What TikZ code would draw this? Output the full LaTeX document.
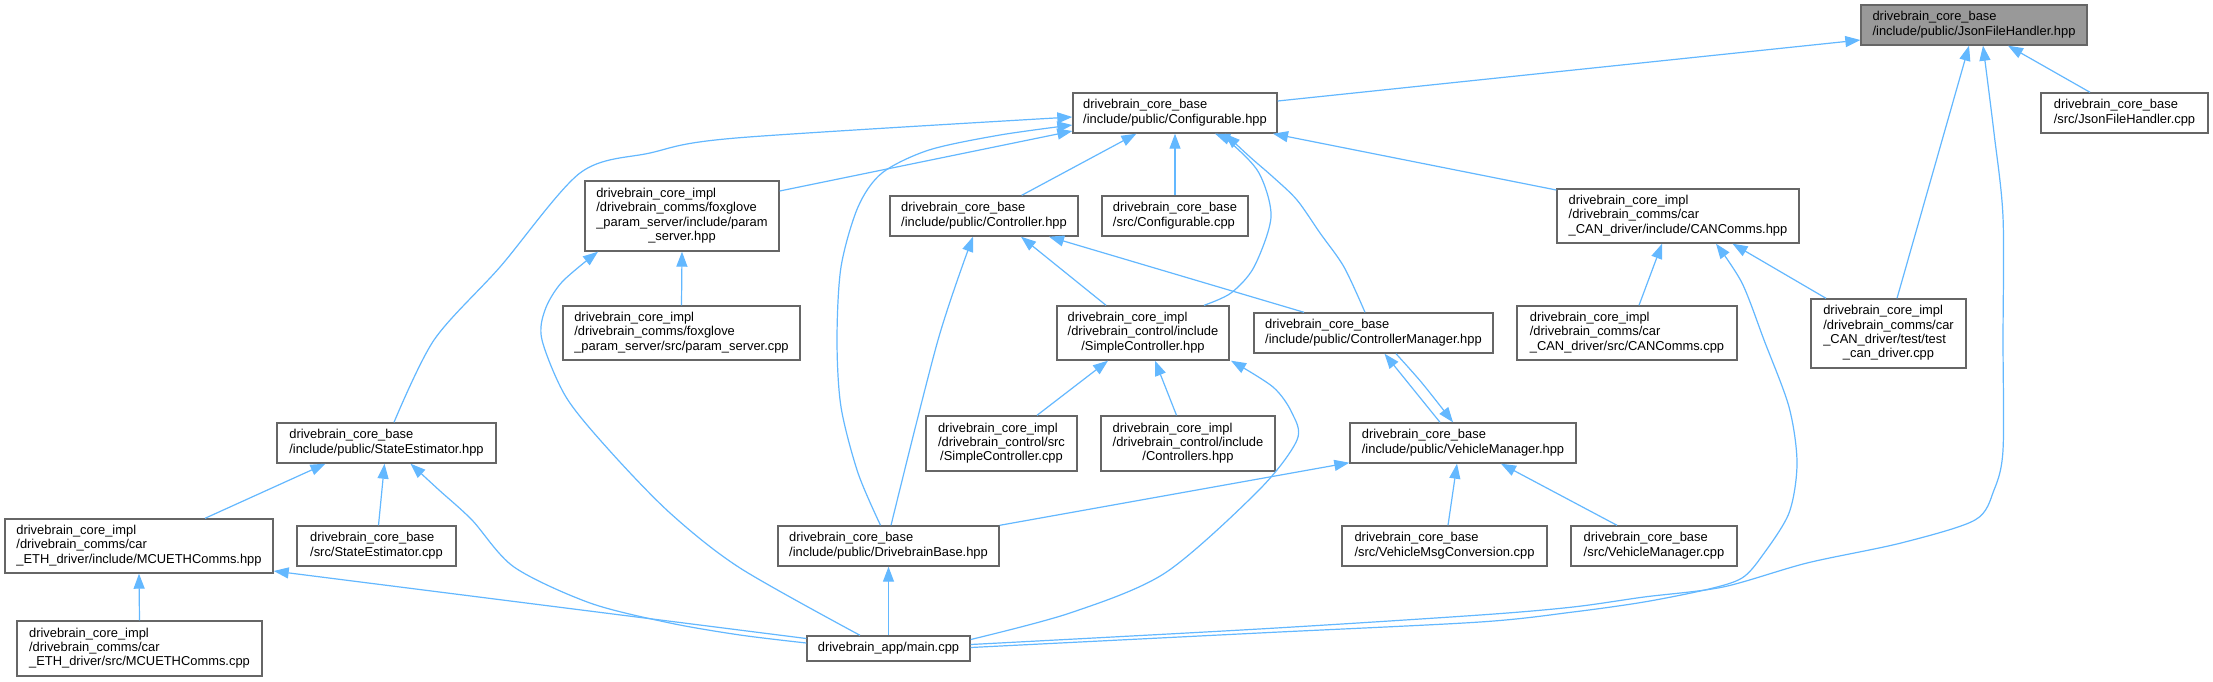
\documentclass[tikz,border=0pt]{standalone}
\usepackage{fontspec}
\setmainfont{Liberation Sans}
\usetikzlibrary{arrows.meta}
\definecolor{edgeblue}{HTML}{63B8FF}
\definecolor{boxborder}{HTML}{666666}
\definecolor{rootfill}{HTML}{999999}
\newcommand\tl[1]{\begin{tabular}{@{}l@{}}#1\end{tabular}}
\newcommand\cl[1]{\multicolumn{1}{@{}c@{}}{#1}}
\begin{document}
\begin{tikzpicture}[x=1pt,y=-1pt,
 dbox/.style={draw=boxborder, fill=white, line width=1.4pt, inner sep=0pt, font=\fontsize{12.9}{14.33}\selectfont, text=black},
 rootbox/.style={dbox, fill=rootfill},
 sz/.style 2 args={minimum width=#1pt, minimum height=#2pt},
 dep/.style={draw=edgeblue, line width=1.2pt, -{Triangle[length=15pt,width=11pt]}},
]
\fill[white] (0,0) rectangle (2213,681);
\useasboundingbox (0,0) rectangle (2213,681);

% nodes
\node[rootbox, sz={226}{40}] (json) at (1974,25) {\tl{drivebrain\_core\_base\\/include/public/JsonFileHandler.hpp}};
\node[dbox, sz={204}{40}] (conf) at (1175,113) {\tl{drivebrain\_core\_base\\/include/public/Configurable.hpp}};
\node[dbox, sz={167}{40}] (jfhcpp) at (2124.5,113) {\tl{drivebrain\_core\_base\\/src/JsonFileHandler.cpp}};
\node[dbox, sz={194}{70}] (psh) at (682,216) {\tl{drivebrain\_core\_impl\\/drivebrain\_comms/foxglove\\\_param\_server/include/param\\\cl{\_server.hpp}}};
\node[dbox, sz={188}{40}] (ctrl) at (984,216) {\tl{drivebrain\_core\_base\\/include/public/Controller.hpp}};
\node[dbox, sz={146}{40}] (confcpp) at (1175,216) {\tl{drivebrain\_core\_base\\/src/Configurable.cpp}};
\node[dbox, sz={242}{54}] (canh) at (1678,216) {\tl{drivebrain\_core\_impl\\/drivebrain\_comms/car\\\_CAN\_driver/include/CANComms.hpp}};
\node[dbox, sz={237}{54}] (pscpp) at (681.5,333) {\tl{drivebrain\_core\_impl\\/drivebrain\_comms/foxglove\\\_param\_server/src/param\_server.cpp}};
\node[dbox, sz={172}{54}] (sch) at (1143,333) {\tl{drivebrain\_core\_impl\\/drivebrain\_control/include\\\cl{/SimpleController.hpp}}};
\node[dbox, sz={239}{40}] (cmh) at (1373.5,333) {\tl{drivebrain\_core\_base\\/include/public/ControllerManager.hpp}};
\node[dbox, sz={220}{54}] (cancpp) at (1627,333) {\tl{drivebrain\_core\_impl\\/drivebrain\_comms/car\\\_CAN\_driver/src/CANComms.cpp}};
\node[dbox, sz={155}{69}] (test) at (1888.5,333.5) {\tl{drivebrain\_core\_impl\\/drivebrain\_comms/car\\\_CAN\_driver/test/test\\\cl{\_can\_driver.cpp}}};
\node[dbox, sz={219}{40}] (seh) at (386.5,443) {\tl{drivebrain\_core\_base\\/include/public/StateEstimator.hpp}};
\node[dbox, sz={151}{55}] (sccpp) at (1001.5,443.5) {\tl{drivebrain\_core\_impl\\/drivebrain\_control/src\\\cl{/SimpleController.cpp}}};
\node[dbox, sz={174}{55}] (ctrlsh) at (1188,443.5) {\tl{drivebrain\_core\_impl\\/drivebrain\_control/include\\\cl{/Controllers.hpp}}};
\node[dbox, sz={226}{40}] (vmh) at (1463,443) {\tl{drivebrain\_core\_base\\/include/public/VehicleManager.hpp}};
\node[dbox, sz={268}{54}] (mcuh) at (139,546) {\tl{drivebrain\_core\_impl\\/drivebrain\_comms/car\\\_ETH\_driver/include/MCUETHComms.hpp}};
\node[dbox, sz={159}{40}] (secpp) at (376.5,546) {\tl{drivebrain\_core\_base\\/src/StateEstimator.cpp}};
\node[dbox, sz={221}{40}] (dbh) at (888.5,546) {\tl{drivebrain\_core\_base\\/include/public/DrivebrainBase.hpp}};
\node[dbox, sz={205}{40}] (vmccpp) at (1444.5,546) {\tl{drivebrain\_core\_base\\/src/VehicleMsgConversion.cpp}};
\node[dbox, sz={166}{40}] (vmcpp) at (1654,546) {\tl{drivebrain\_core\_base\\/src/VehicleManager.cpp}};
\node[dbox, sz={245}{55}] (mcucpp) at (139.5,648.5) {\tl{drivebrain\_core\_impl\\/drivebrain\_comms/car\\\_ETH\_driver/src/MCUETHComms.cpp}};
\node[dbox, sz={163}{25}] (main) at (888.5,648.5) {\tl{drivebrain\_app/main.cpp}};

% edges into JsonFileHandler.hpp
\draw[dep] ([yshift=12pt]conf.east) -- ([yshift=-15pt]json.west);
\draw[dep] ([xshift=-34.5pt]jfhcpp.north) -- ([xshift=34pt]json.south);
\draw[dep] ([xshift=8.5pt]test.north) -- ([xshift=-5pt]json.south);
\draw[dep] plot[smooth] coordinates {([yshift=4pt]main.east) (1259,629) (1480,615) (1573,607) (1644,597) (1723,587) (1807,563) (1901,543) (1975,520) (1994,490) (2003,450) (2003,340) (2003,217) (1994,133) ([xshift=9pt]json.south)};

% edges into Configurable.hpp
\draw[dep] plot[smooth] coordinates {([xshift=7.5pt]seh.north) (434,340) (500,267) (580,173) (650,153) (736,138) ([yshift=-4pt]conf.west)};
\draw[dep] ([yshift=25pt]psh.east) -- ([yshift=-18pt]conf.west);
\draw[dep] plot[smooth] coordinates {([xshift=-8pt]dbh.north) (858,473) (841,407) (837,340) (841,267) (858,207) (882,173) (929,150) (1000,135) ([yshift=-12pt]conf.west)};
\draw[dep] ([xshift=37.7pt]ctrl.north) -- ([xshift=-38.6pt]conf.south);
\draw[dep] (confcpp.north) -- (conf.south);
\draw[dep] plot[smooth] coordinates {([xshift=61pt]sch.north) (1231,293) (1254,267) (1271,217) (1259,173) (1231,143) ([xshift=40pt]conf.south)};
\draw[dep] plot[smooth] coordinates {([xshift=-8.5pt]cmh.north) (1344,267) (1320,233) (1297,200) (1273,177) (1250,157) ([xshift=50pt]conf.south)};
\draw[dep] ([yshift=26pt]canh.west) -- ([xshift=98pt]conf.south);

% param_server.hpp
\draw[dep] (pscpp.north) -- (psh.south);
\draw[dep] plot[smooth] coordinates {([xshift=-28.5pt]main.north) (740,568) (670,513) (609,450) (566,397) (542,340) (545,310) (562,282) ([xshift=-84pt]psh.south)};

% Controller.hpp
\draw[dep] plot[smooth] coordinates {([xshift=2.5pt]dbh.north) (938,340) ([xshift=-11pt]ctrl.south)};
\draw[dep] ([xshift=-37pt]sch.north) -- ([xshift=37pt]ctrl.south);
\draw[dep] ([xshift=-69.5pt]cmh.north) -- ([xshift=65pt]ctrl.south);

% CANComms.hpp
\draw[dep] ([xshift=12pt]cancpp.north) -- ([xshift=-16pt]canh.south);
\draw[dep] ([xshift=-62.5pt]test.north) -- ([xshift=54.5pt]canh.south);
\draw[dep] plot[smooth] coordinates {([yshift=1pt]main.east) (1259,633) (1480,622) (1573,612) (1644,602) (1709,589) (1742,578) (1762,556) (1789,513) (1797,463) (1789,407) (1764,340) (1742,283) ([xshift=38pt]canh.south)};

% SimpleController.hpp
\draw[dep] ([xshift=35.5pt]sccpp.north) -- ([xshift=-35pt]sch.south);
\draw[dep] ([xshift=-11.5pt]ctrlsh.north) -- ([xshift=12pt]sch.south);
\draw[dep] plot[smooth] coordinates {([yshift=9pt]main.east) (1070,613) (1165,573) (1259,490) (1297,440) (1292,413) (1273,387) ([xshift=88pt]sch.south)};

% ControllerManager / VehicleManager
\draw[dep] ([xshift=-23pt]vmh.north) -- ([xshift=11pt]cmh.south);
\draw[dep] plot[smooth] coordinates {([xshift=22.5pt]cmh.south) (1422,383) ([xshift=-10pt]vmh.north)};

% StateEstimator.hpp
\draw[dep] ([xshift=66pt]mcuh.north) -- ([xshift=-61pt]seh.south);
\draw[dep] ([xshift=2pt]secpp.north) -- ([xshift=-2pt]seh.south);
\draw[dep] plot[smooth] coordinates {([yshift=5.5pt]main.west) (740,635) (670,623) (590,603) (514,567) (472,520) (439,490) ([xshift=24pt]seh.south)};

% MCUETHComms.hpp
\draw[dep] ([yshift=10pt]main.west) -- ([yshift=-25pt]mcuh.east);
\draw[dep] (mcucpp.north) -- (mcuh.south);

% VehicleManager.hpp
\draw[dep] (dbh.north east) -- ([yshift=1pt]vmh.south west);
\draw[dep] ([xshift=3.5pt]vmccpp.north) -- ([xshift=-6pt]vmh.south);
\draw[dep] ([xshift=-37pt]vmcpp.north) -- ([xshift=38pt]vmh.south);

% DrivebrainBase.hpp
\draw[dep] (main.north) -- (dbh.south);
\end{tikzpicture}
\end{document}
